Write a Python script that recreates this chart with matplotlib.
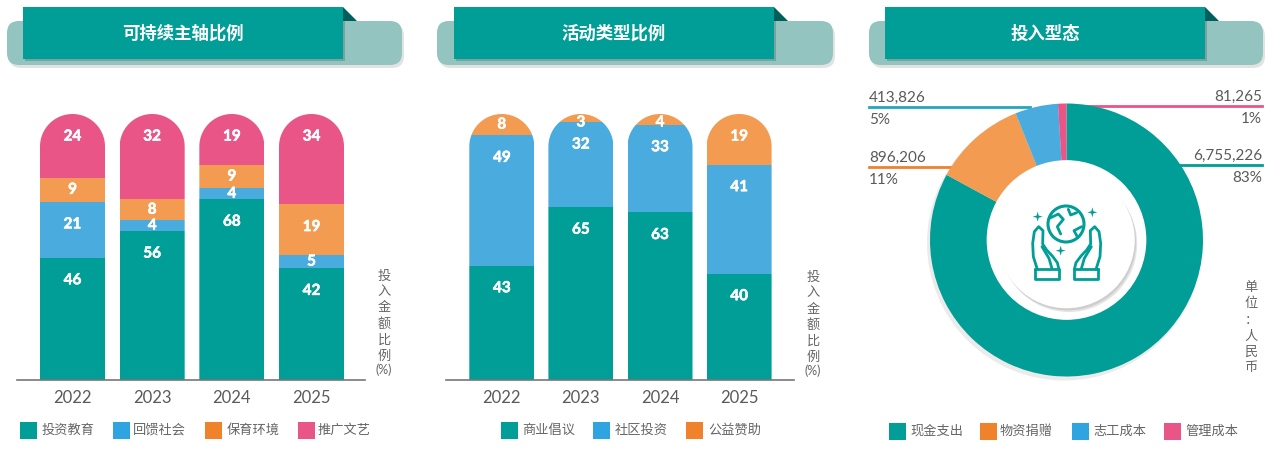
import numpy as np
import matplotlib
matplotlib.use('Agg')
import matplotlib.pyplot as plt
import matplotlib.patheffects as pe
from matplotlib.patches import Rectangle, FancyBboxPatch, Polygon, Circle, PathPatch
from matplotlib.path import Path

plt.rcParams['font.family'] = ['Lato', 'Noto Sans CJK SC', 'DejaVu Sans']

# colours
TEAL = '#009e96'
BLUE = '#4aabdf'
ORANGE = '#f39b51'
PINK = '#e85586'
LEG_BLUE = '#2ea5e0'
LEG_ORANGE = '#ef822a'
GREY_TXT = '#5a5a5a'

# chart 1 data
years = ['2022', '2023', '2024', '2025']
focus_names = ['投资教育', '回馈社会', '保育环境', '推广文艺']
focus_edu = [46, 56, 68, 42]
focus_soc = [21, 4, 4, 5]
focus_env = [9, 8, 9, 19]
focus_art = [24, 32, 19, 34]

# chart 2 data
type_names = ['商业倡议', '社区投资', '公益赞助']
type_biz = [43, 65, 63, 40]
type_com = [49, 32, 33, 41]
type_spn = [8, 3, 4, 19]

# chart 3 data
input_names = ['现金支出', '物资捐赠', '志工成本', '管理成本']
input_values = [6755226, 896206, 413826, 81265]

W, H = 1281, 451
fig = plt.figure(figsize=(W / 100, H / 100), dpi=100)


def pix_axes(left, top, right, bottom, z):
    ax = fig.add_axes([left / W, 1 - bottom / H, (right - left) / W, (bottom - top) / H], zorder=z)
    ax.patch.set_alpha(0)
    return ax


bg = pix_axes(0, 0, W, H, 0)
bg.set_xlim(0, W)
bg.set_ylim(H, 0)
bg.axis('off')
fg = pix_axes(0, 0, W, H, 10)
fg.set_xlim(0, W)
fg.set_ylim(H, 0)
fg.axis('off')


def header(x_light, x_dark, title):
    # shadow + light pill
    bg.add_patch(FancyBboxPatch((x_light[0] + 12 + 2, 21 + 12 + 3), x_light[1] - x_light[0] - 24,
                                44 - 24, boxstyle='round,pad=12', fc='#a0a0a0', ec='none', alpha=0.3))
    bg.add_patch(FancyBboxPatch((x_light[0] + 12, 21 + 12), x_light[1] - x_light[0] - 24, 44 - 24,
                                boxstyle='round,pad=12', fc='#93c4bf', ec='none'))
    # dark box with shadow
    bg.add_patch(Rectangle((x_dark[0] + 2, 9), x_dark[1] - x_dark[0], 52, fc='#5a6f6d', ec='none', alpha=0.4))
    bg.add_patch(Rectangle((x_dark[0], 7), x_dark[1] - x_dark[0], 52, fc=TEAL, ec='none'))
    bg.add_patch(Polygon([(x_dark[1], 7), (x_dark[1] + 14, 21), (x_dark[1], 21)], fc='#005f5b', ec='none'))
    bg.text((x_dark[0] + x_dark[1]) / 2, 34, title, color='white', fontsize=12.5, fontweight='bold',
            ha='center', va='center', family=['Noto Sans CJK SC'])


header((7, 402), (23, 343), '可持续主轴比例')
header((437, 833), (454, 774), '活动类型比例')
header((869, 1263), (885, 1205), '投入型态')

bold_fx = [pe.withStroke(linewidth=0.4, foreground='white')]


def stacked_bars(left, right, first_c, step, series, colors):
    ax = pix_axes(left, 114, right, 380, 2)
    ax.set_ylim(0, 100)
    ax.set_xlim((left - first_c) / step, (right - first_c) / step)
    width = 65 / step
    ry = 32.5 / 266 * 100
    x = np.arange(len(years))
    bottom = np.zeros(len(years))
    clips = []
    for xc in x:
        t = np.linspace(0, np.pi, 60)
        arc = np.column_stack([xc + width / 2 * np.cos(t), 100 - ry + ry * np.sin(t)])
        verts = [(xc + width / 2, 0)] + arc.tolist() + [(xc - width / 2, 0), (xc + width / 2, 0)]
        clips.append(Path(verts, closed=True))
    for vals, col in zip(series, colors):
        vals = np.array(vals, dtype=float)
        bars = ax.bar(x, vals, width=width, bottom=bottom, color=col, linewidth=0)
        for i, b in enumerate(bars):
            b.set_clip_path(PathPatch(clips[i], transform=ax.transData))
            top = bottom[i] + vals[i]
            ty = min(top - min(vals[i] / 2, 8.5), 96.8)
            ax.text(x[i], ty, f'{int(vals[i])}', color='white', fontsize=11, fontweight='bold',
                    ha='center', va='center', path_effects=bold_fx)
        bottom += vals
    for s in ['top', 'left', 'right']:
        ax.spines[s].set_visible(False)
    ax.spines['bottom'].set_color('#777777')
    ax.spines['bottom'].set_linewidth(1.2)
    ax.set_yticks([])
    ax.set_xticks(x, years)
    ax.tick_params(axis='x', length=0, pad=7, labelsize=12, labelcolor=GREY_TXT)
    return ax


stacked_bars(17, 365, 72.5, 79.67, [focus_edu, focus_soc, focus_env, focus_art], [TEAL, BLUE, ORANGE, PINK])
stacked_bars(446, 794, 501.8, 79.1, [type_biz, type_com, type_spn], [TEAL, BLUE, ORANGE])


def vertical_text(x, y0, chars, step=16):
    for i, c in enumerate(chars):
        fg.text(x, y0 + i * step, c, fontsize=9.5, color='#666666', ha='center', va='center',
                family=['Noto Sans CJK SC'])


vertical_text(384, 276, list('投入金额比例'))
fg.text(384, 370, '(%)', fontsize=9, color='#666666', ha='center', va='center')
vertical_text(813, 277, list('投入金额比例'))
fg.text(813, 371, '(%)', fontsize=9, color='#666666', ha='center', va='center')
vertical_text(1251, 288, list('单位：人民币'))


def legend(names, colors, sq_x, tx_x, y):
    for n, c, sx, tx in zip(names, colors, sq_x, tx_x):
        fg.add_patch(Rectangle((sx, y - 8.5), 17, 17, fc=c, ec='none'))
        fg.text(tx, y, n, fontsize=9.5, color='#666666', ha='left', va='center',
                family=['Noto Sans CJK SC'])


legend(focus_names, [TEAL, LEG_BLUE, LEG_ORANGE, PINK], [20, 113, 205, 298], [42, 133, 227, 318], 430)
legend(type_names, [TEAL, LEG_BLUE, LEG_ORANGE], [501, 593, 686], [522, 615, 708], 430)
legend(input_names, [TEAL, LEG_ORANGE, LEG_BLUE, PINK], [889, 980, 1072, 1164], [910, 1000, 1093, 1185], 431)

# donut
cx, cy, r = 1066.5, 240, 136.5
bg.add_patch(Circle((cx - 2, cy + 3), r + 1, fc='#c8c8c8', ec='none', alpha=0.35))
pax = pix_axes(cx - r, cy - r, cx + r, cy + r, 3)
pax.pie(input_values, colors=[TEAL, ORANGE, BLUE, PINK], startangle=90, counterclock=False,
        radius=1, wedgeprops=dict(width=0.42, linewidth=0))
pax.set_xlim(-1, 1)
pax.set_ylim(-1, 1)
pax.set_aspect('equal')
pax.axis('off')
# white hole, inner disc with a soft drop shadow
pax.add_patch(Circle((0, 0), 0.585, fc='white', ec='none'))
pax.add_patch(Circle((0.018, -0.028), 0.5, fc='#9a9a9a', ec='none', alpha=0.25))
pax.add_patch(Circle((0.01, -0.016), 0.5, fc='#8a8a8a', ec='none', alpha=0.25))
pax.add_patch(Circle((0, 0), 0.5, fc='white', ec='none'))

# icon (hands holding globe), drawn in pixel space
def z(zx, zy):
    return 850 + zx / 3, 80 + zy / 3


ic = dict(color=TEAL, lw=2.0, solid_capstyle='round', solid_joinstyle='round')
fg.add_patch(Circle(z(648, 432), 18, fc='none', ec=TEAL, lw=2.2))
for pts in ([(598, 415), (625, 402), (640, 418), (622, 440), (632, 462)],
            [(695, 440), (672, 452), (683, 472)],
            [(655, 388), (662, 405), (680, 398)]):
    xs, ys = zip(*[z(*p) for p in pts])
    fg.plot(xs, ys, **ic)
left_hand = [(562, 568), (550, 530), (548, 490), (553, 455), (566, 440), (579, 452), (578, 492),
             (590, 510), (607, 528), (622, 548), (627, 568)]
inner = [(576, 500), (597, 535), (606, 566)]
cuff = [(555, 568), (628, 568), (628, 598), (555, 598), (555, 568)]
for shape in (left_hand, inner, cuff):
    for mirror in (False, True):
        pts = [(1300 - a if mirror else a, b) for a, b in shape]
        xs, ys = zip(*[z(*p) for p in pts])
        fg.plot(xs, ys, **ic)
for sx, sy, sr in [(563, 410, 5), (727, 397, 5), (632, 512, 5)]:
    px, py = z(sx, sy)
    ang = np.linspace(0, 2 * np.pi, 9)[:-1]
    rad = np.where(np.arange(8) % 2 == 0, sr, sr * 0.3)
    fg.add_patch(Polygon(np.column_stack([px + rad * np.sin(ang), py - rad * np.cos(ang)]),
                         fc=TEAL, ec='none'))

# leader labels
total = sum(input_values)
pct = [f'{round(100 * v / total)}%' for v in input_values]
amt = [f'{v:,}' for v in input_values]
# (value index, text x, align, line y, line x0, line x1, colour)
leaders = [
    (0, 1262, 'right', 165, 1180, 1262, TEAL),
    (1, 869, 'left', 167, 869, 952, LEG_ORANGE),
    (2, 869, 'left', 107, 869, 1030, '#24a6c0'),
    (3, 1262, 'right', 105.5, 1068, 1262, PINK),
]
for i, tx, ha, ly, x0, x1, col in leaders:
    bg.plot([x0, x1], [ly, ly], color=col, lw=2, zorder=1)
    fg.text(tx, ly - 9, amt[i], fontsize=11, color=GREY_TXT, ha=ha, va='center')
    fg.text(tx, ly + 13.5, pct[i], fontsize=11, color=GREY_TXT, ha=ha, va='center')

fig.savefig('out.png', dpi=100, facecolor='white')
